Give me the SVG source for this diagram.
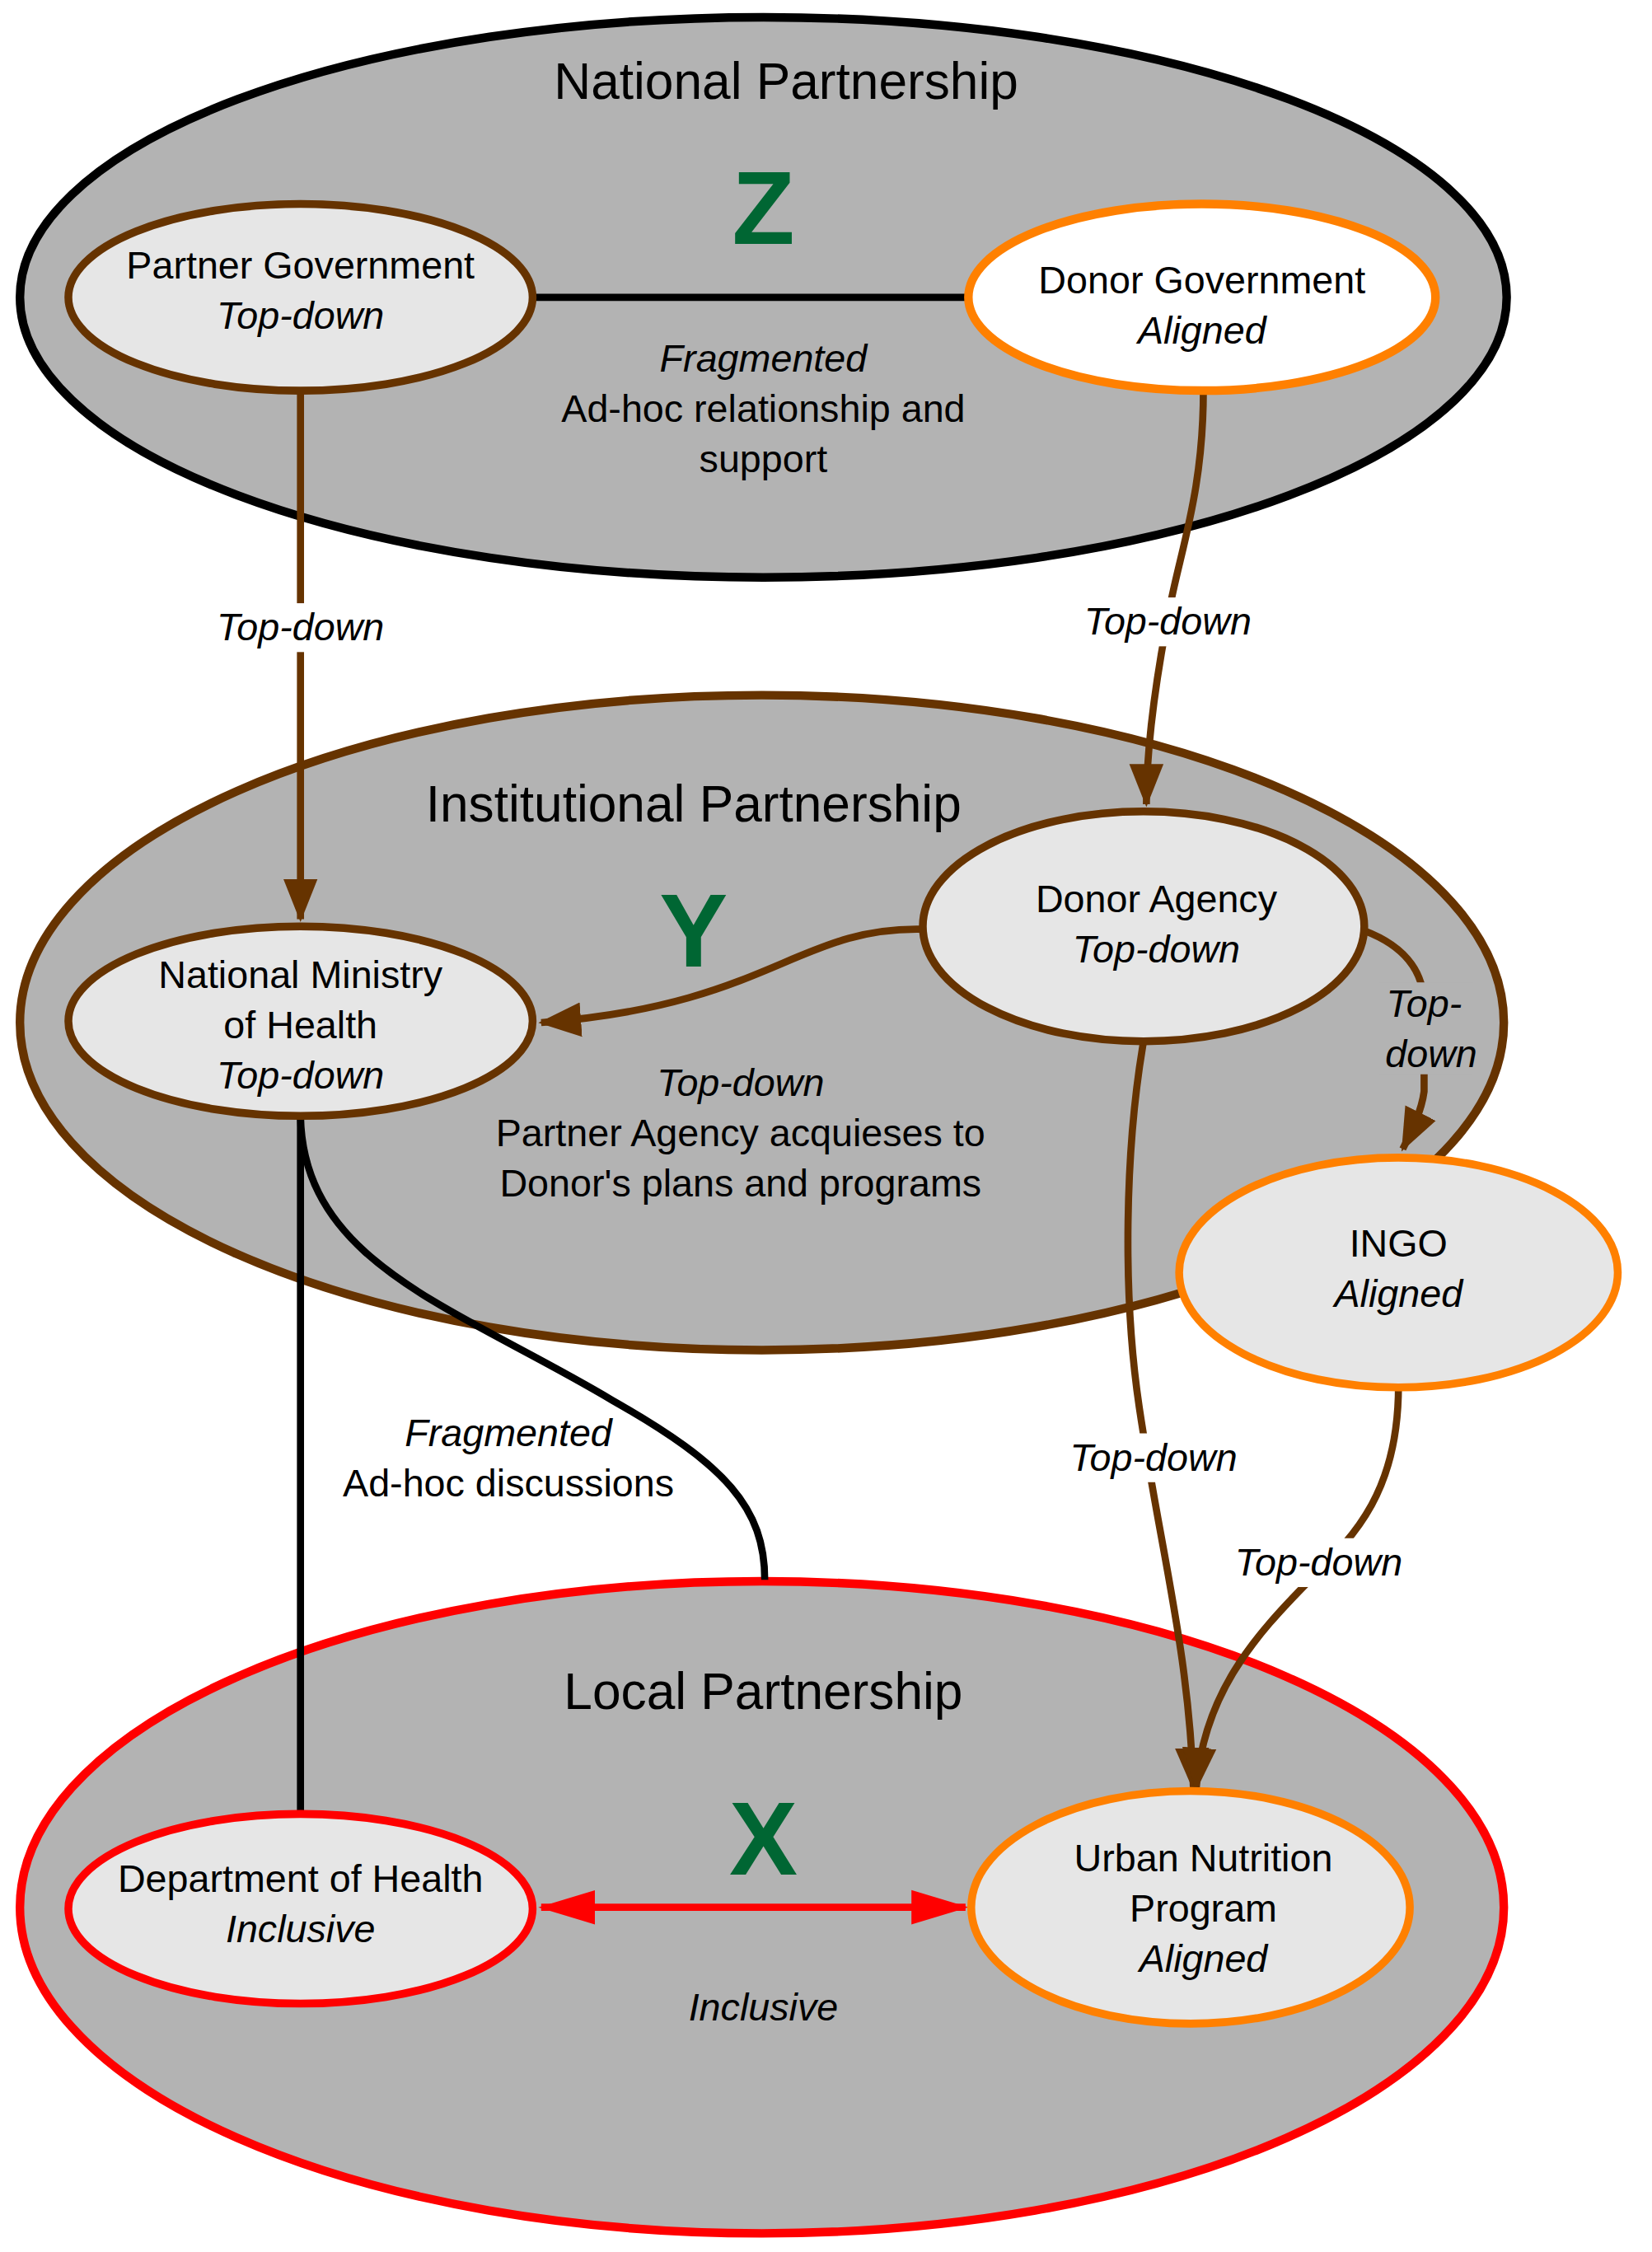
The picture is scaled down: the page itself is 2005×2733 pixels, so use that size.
<svg xmlns="http://www.w3.org/2000/svg" width="2005" height="2733" viewBox="0 0 2005 2733">
<style>
text{font-family:"Liberation Sans",Arial,sans-serif;fill:#000;text-anchor:middle}
.t{font-size:27px}.i{font-style:italic}.h{font-size:36px}
.g{font-size:72px;font-weight:bold;fill:#006633}
.c{fill:none;stroke-width:5}.b{stroke:#663300}.k{stroke:#000}
.n{fill:#e6e6e6;stroke-width:5.5}
</style>
<defs>
<marker id="ab" markerUnits="userSpaceOnUse" markerWidth="30" markerHeight="30" viewBox="0 0 30 30" refX="28" refY="15" orient="auto"><path d="M0,3 L30,15 L0,27 Z" fill="#663300"/></marker>
<marker id="ar" markerUnits="userSpaceOnUse" markerWidth="40" markerHeight="30" viewBox="0 0 40 30" refX="38" refY="15" orient="auto-start-reverse"><path d="M0,3 L40,15 L0,27 Z" fill="#ff0000"/></marker>
</defs>
<rect width="2005" height="2733" fill="#fff"/>
<g transform="scale(1.7284,1.743)">
<g id="national"><ellipse cx="536" cy="207" rx="522" ry="195" fill="#b3b3b3" stroke="#000" stroke-width="6"/><text class="h" x="552" y="69">National Partnership</text><text class="g" x="536" y="170">Z</text></g>
<g id="institutional"><ellipse cx="535" cy="712" rx="521" ry="228" fill="#b3b3b3" stroke="#663300" stroke-width="6"/><text class="h" x="487" y="572">Institutional Partnership</text><text class="g" x="487" y="673">Y</text></g>
<g id="local"><ellipse cx="535" cy="1328" rx="521" ry="227" fill="#b3b3b3" stroke="#ff0000" stroke-width="6"/><text class="h" x="536" y="1190">Local Partnership</text><text class="g" x="536" y="1305">X</text></g>
<g id="connectors">
<line class="c k" x1="374" y1="207" x2="680" y2="207"/>
<text class="t i" x="536" y="259">Fragmented</text><text class="t" x="536" y="294">Ad-hoc relationship and</text><text class="t" x="536" y="329">support</text>
<line class="c b" x1="211" y1="272" x2="211" y2="640" marker-end="url(#ab)"/>
<rect x="145" y="420" width="132" height="34" fill="#fff"/><text class="t i" x="211" y="446">Top-down</text>
<path class="c b" d="M845,272 C845,340 830,380 822,420 C812,470 805,520 805,560" marker-end="url(#ab)"/>
<rect x="755" y="416" width="132" height="34" fill="#fff"/><text class="t i" x="820" y="442">Top-down</text>
<path class="c b" d="M648,647 C560,645 540,700 380,712" marker-end="url(#ab)"/>
<text class="t i" x="520" y="763">Top-down</text><text class="t" x="520" y="798">Partner Agency acquieses to</text><text class="t" x="520" y="833">Donor's plans and programs</text>
<path class="c b" d="M958,648 C990,660 1000,680 1000,700 L1000,760 C998,775 990,790 985,800" marker-end="url(#ab)"/>
<rect x="968" y="684" width="66" height="64" fill="#b3b3b3"/><text class="t i" x="1000" y="708">Top-</text><text class="t i" x="1005" y="743">down</text>
<path class="c b" d="M803,725 C790,800 788,900 800,980 C815,1080 835,1150 838,1245" marker-end="url(#ab)"/>
<rect x="745" y="998" width="130" height="34" fill="#fff"/><text class="t i" x="810" y="1024">Top-down</text>
<path class="c b" d="M982,965 C982,1040 950,1070 920,1100 C880,1140 845,1180 840,1245" marker-end="url(#ab)"/>
<rect x="862" y="1071" width="130" height="34" fill="#fff"/><text class="t i" x="926" y="1097">Top-down</text>
<line class="c k" x1="211" y1="777" x2="211" y2="1263"/>
<path class="c k" d="M211,777 C213,880 320,910 430,975 C510,1020 537,1050 537,1100"/>
<text class="t i" x="357" y="1007">Fragmented</text><text class="t" x="357" y="1042">Ad-hoc discussions</text>
<line stroke="#ff0000" stroke-width="5" x1="380" y1="1328" x2="678" y2="1328" marker-start="url(#ar)" marker-end="url(#ar)"/>
<text class="t i" x="536" y="1407">Inclusive</text>
</g>
<g id="partner-gov"><ellipse class="n" cx="211" cy="207" rx="163" ry="65" stroke="#663300"/><text class="t" x="211" y="194">Partner Government</text><text class="t i" x="211" y="229">Top-down</text></g>
<g id="donor-gov"><ellipse cx="844" cy="207" rx="164" ry="65" fill="#fff" stroke="#ff8000" stroke-width="6"/><text class="t" x="844" y="204">Donor Government</text><text class="t i" x="844" y="239">Aligned</text></g>
<g id="nmoh"><ellipse class="n" cx="211" cy="711" rx="163" ry="66" stroke="#663300"/><text class="t" x="211" y="688">National Ministry</text><text class="t" x="211" y="723">of Health</text><text class="t i" x="211" y="758">Top-down</text></g>
<g id="donor-agency"><ellipse class="n" cx="803" cy="645" rx="155" ry="80" stroke="#663300"/><text class="t" x="812" y="635">Donor Agency</text><text class="t i" x="812" y="670">Top-down</text></g>
<g id="ingo"><ellipse class="n" cx="982" cy="886" rx="154" ry="80" stroke="#ff8000"/><text class="t" x="982" y="875">INGO</text><text class="t i" x="982" y="910">Aligned</text></g>
<g id="doh"><ellipse class="n" cx="211" cy="1329" rx="163" ry="66" stroke="#ff0000"/><text class="t" x="211" y="1317">Department of Health</text><text class="t i" x="211" y="1352">Inclusive</text></g>
<g id="unp"><ellipse class="n" cx="836" cy="1328" rx="154" ry="81" stroke="#ff8000"/><text class="t" x="845" y="1303">Urban Nutrition</text><text class="t" x="845" y="1338">Program</text><text class="t i" x="845" y="1373">Aligned</text></g>
</g>
</svg>
